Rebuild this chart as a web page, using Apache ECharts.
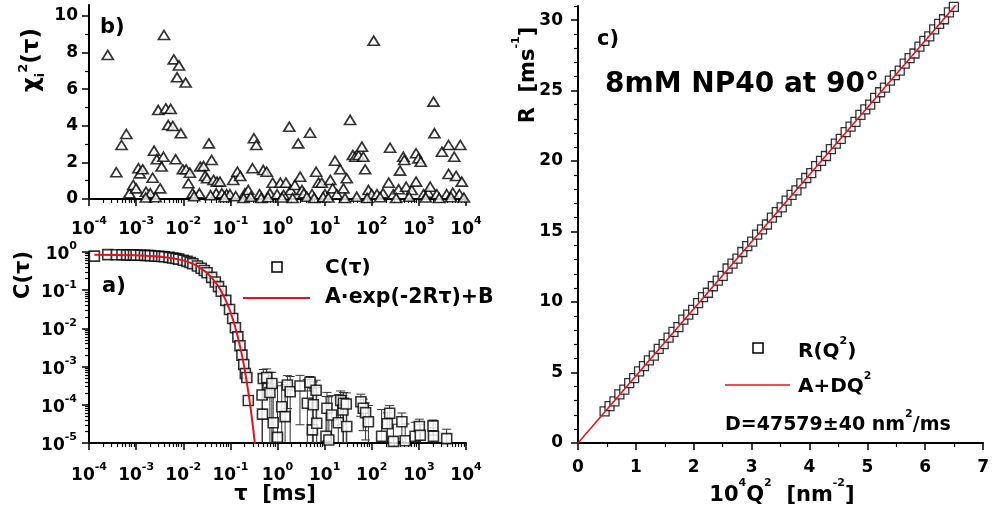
<!DOCTYPE html>
<html><head><meta charset="utf-8">
<script src="https://cdn.jsdelivr.net/npm/echarts@6/dist/echarts.min.js"></script>
<style>html,body{margin:0;padding:0;background:#fff}#c{width:992px;height:516px}</style>
</head><body><div id="c"></div>
<script>
// ---------- panel b : chi^2 residuals ----------
const chiTau = [2.5e-4,3.8e-4,4.9e-4,6.2e-4,7.2e-4,8.7e-4,1.0e-3,1.12e-3,1.2e-3,1.38e-3,1.62e-3,2.0e-3,2.24e-3,2.4e-3,2.95e-3,2.75e-3,3.24e-3,3.47e-3,3.8e-3,3.9e-3,4.27e-3,4.8e-3,5.4e-3,6.0e-3,6.3e-3,6.9e-3,7.4e-3,8.1e-3,8.9e-3,9.8e-3,1.12e-2,1.15e-2,1.29e-2,1.38e-2,1.58e-2,2.2e-2,2.3e-2,2.7e-2,2.9e-2,3.2e-2,3.5e-2,4.0e-2,4.4e-2,5.0e-2,5.2e-2,6.0e-2,6.6e-2,8.3e-2,9.8e-2,0.115,0.141,0.162,0.204,0.24,0.295,0.316,0.355,0.417,0.50,0.59,0.69,0.79,0.98,1.15,1.35,1.51,1.78,1.91,2.34,2.75,3.02,3.31,3.63,4.9,5.4,6.6,7.4,8.7,10.2,13.2,14.8,16.6,18.2,21.4,25.1,29.5,34.7,39.8,44.7,52.5,61.7,66.1,72.4,85.1,100,110,129,174,229,245,288,372,398,468,490,537,708,871,871,977,1096,1259,1585,1738,2042,2138,2399,3090,3890,4266,4266,5248,5623,6166,7244,7586,8128,
  1.6e-3,2.6e-3,1.7e-2,3.8e-2,7.5e-2,0.13,0.19,0.27,0.45,0.63,1.25,2.1,4.2,6.0,9.3,12,27,48,80,150,330,620,1400,2700,4800,9000];
const chiVal = [7.87,1.46,2.95,3.55,0.31,0.77,0.58,1.68,1.40,1.62,0.40,0.31,1.16,2.64,4.86,2.17,0.58,1.77,2.31,8.96,4.95,4.04,4.92,3.99,7.63,2.17,6.65,7.30,3.59,1.62,6.36,1.62,0.86,1.44,0.31,0.31,1.77,1.80,1.26,1.13,3.04,2.13,1.04,0.31,0.95,0.95,0.31,0.26,0.26,1.04,1.49,1.26,0.31,0.49,1.68,3.32,2.95,0.26,1.58,1.49,0.31,0.89,0.26,0.89,0.22,0.89,3.95,0.49,0.77,3.04,1.22,0.49,0.31,3.62,0.26,1.49,0.89,0.89,0.26,1.04,0.58,2.09,0.26,1.62,0.58,1.13,4.32,2.40,2.31,2.40,2.86,2.31,1.62,0.49,0.26,8.65,0.26,0.31,0.89,2.80,0.26,0.53,1.55,2.31,2.13,0.67,0.49,0.95,2.50,2.22,2.04,0.26,0.34,0.67,5.32,3.59,0.26,2.58,0.26,1.37,2.95,0.34,2.31,1.26,0.26,2.95,0.95,
  0.08,0.10,0.15,0.20,0.10,0.15,0.05,0.12,0.05,0.10,0.08,0.05,0.12,0.05,0.10,0.08,0.05,0.12,0.05,0.10,0.05,0.12,0.08,0.05,0.10,0.08];
const chiTicks = [0,2,4,6,8,10];
const chiMinor = [1,3,5,7,9];

// ---------- panel a : correlation function ----------
const corrTau = [1.3e-4,2.5e-4,3.8e-4,5.0e-4,6.3e-4,7.5e-4,8.8e-4,1.0e-3,1.25e-3,1.5e-3,1.75e-3,2.0e-3,2.5e-3,3.0e-3,3.5e-3,4.0e-3,5.0e-3,6.0e-3,7.0e-3,8.0e-3,1.0e-2,1.2e-2,1.4e-2,1.6e-2,2.0e-2,2.4e-2,2.8e-2,3.2e-2,4.0e-2,4.8e-2,5.6e-2,6.4e-2,8.0e-2,9.6e-2,0.112,0.128,0.144,0.16,0.176,0.192,0.208,0.224,0.24];
const corrVal = [0.78,0.853,0.849,0.845,0.841,0.838,0.834,0.831,0.824,0.816,0.809,0.802,0.788,0.775,0.761,0.748,0.723,0.698,0.675,0.652,0.609,0.568,0.530,0.494,0.431,0.375,0.327,0.285,0.217,0.164,0.124,0.094,0.0543,0.0313,0.0181,0.0104,0.0060,0.0035,0.0020,0.00114,0.00066,0.00052,0.00013];
const tailTau = [0.47,0.48,0.50,0.59,0.69,0.76,0.81,1.0,1.23,1.45,1.62,1.86,3.0,4.3,4.9,5.5,5.75,6.6,6.8,10.7,11.2,12.3,14.1,19.5,21.9,24.5,25.1,28.8,29.5,58.9,66,74,85,162,214,240,288,436,513,832,1023,1072,1995,2040,3890];
const tailVal = [1.8e-4,5.7e-5,4.9e-4,5.2e-4,2.1e-4,3.6e-4,3.4e-5,1.4e-5,8.9e-5,4.9e-5,3.3e-4,2.2e-4,3.1e-4,1.1e-4,3.9e-4,2.2e-5,1.0e-4,2.4e-4,3.3e-5,1.5e-5,8.1e-5,1.2e-5,5.4e-5,3.4e-5,1.3e-4,7.3e-5,1.1e-4,1.05e-4,2.7e-5,1.2e-4,8.1e-5,6.2e-5,3.6e-5,1.5e-5,3.2e-5,6.0e-5,1.1e-5,3.6e-5,1.15e-5,1.5e-5,2.7e-5,1.6e-5,2.8e-5,1.5e-5,1.3e-5];
const tailErr = [4.5e-4,4.0e-4,3.5e-4,3.5e-4,5.0e-4,3.5e-4,3.2e-4,3.0e-4,3.0e-4,2.8e-4,2.5e-4,3.3e-4,2.8e-4,3.5e-4,1.6e-4,2.5e-4,3.0e-4,2.0e-4,2.5e-4,1.5e-4,1.3e-4,1.5e-4,1.2e-4,1.5e-4,1.0e-4,1.0e-4,1.0e-4,1.0e-4,1.1e-4,7.0e-5,6.0e-5,5.0e-5,6.0e-5,6.0e-5,3.0e-5,3.5e-5,2.0e-5,2.5e-5,2.0e-5,2.0e-5,1.5e-5,1.5e-5,1.2e-5,1.0e-5,1.0e-5];
const fitTau = [1.3e-4,1e-3,3e-3,6e-3,1e-2,1.5e-2,2e-2,3e-2,4e-2,5e-2,6e-2,7e-2,8e-2,0.1,0.12,0.14,0.16,0.18,0.2,0.22,0.25,0.28,0.31,0.34];
const fitVal = [0.846,0.821,0.766,0.690,0.604,0.509,0.428,0.303,0.214,0.152,0.108,0.0764,0.0541,0.0273,0.0137,0.00688,0.00346,0.00174,0.000874,0.000439,0.000157,5.57e-5,1.99e-5,7.1e-6];
const tauDecades = [-4,-3,-2,-1,0,1,2,3,4];
const corrDecades = [-5,-4,-3,-2,-1,0];

// ---------- panel c : relaxation rate vs Q^2 ----------
const q2 = [0.46,0.545,0.63,0.715,0.80,0.885,0.97,1.055,1.14,1.225,1.31,1.395,1.48,1.565,1.65,1.735,1.82,1.905,1.99,2.075,2.16,2.245,2.33,2.415,2.50,2.585,2.67,2.755,2.84,2.925,3.01,3.095,3.18,3.265,3.35,3.435,3.52,3.605,3.69,3.775,3.86,3.945,4.03,4.115,4.20,4.285,4.37,4.455,4.54,4.625,4.71,4.795,4.88,4.965,5.05,5.135,5.22,5.305,5.39,5.475,5.56,5.645,5.73,5.815,5.90,5.985,6.07,6.155,6.24,6.325,6.41,6.495];
const rate = [2.25,2.62,2.95,3.45,3.78,4.25,4.60,5.08,5.45,5.86,6.20,6.68,7.01,7.48,7.88,8.22,8.75,9.10,9.44,9.92,10.35,10.66,11.12,11.52,11.86,12.38,12.72,13.08,13.55,13.96,14.28,14.78,15.16,15.50,15.99,16.38,16.72,17.20,17.60,17.92,18.42,18.80,19.14,19.64,20.02,20.36,20.84,21.24,21.57,22.06,22.44,22.78,23.27,23.66,24.00,24.48,24.88,25.21,25.70,26.09,26.42,26.91,27.30,27.63,28.12,28.52,28.85,29.34,29.73,30.06,30.55,30.94];
const linFitQ2 = [0, 6.62];
const linFitR = [0, 31.5];
const rTicks = [0,5,10,15,20,25,30];

// ---------- styling helpers ----------
const F = "'DejaVu Sans', Verdana, sans-serif";
const BLACK = '#000';
const RED = '#e8101a';
const supRich = {
  b: {fontFamily: F, fontWeight: 'bold', fontSize: 17, color: BLACK, lineHeight: 22, verticalAlign: 'bottom'},
  s: {fontFamily: F, fontWeight: 'bold', fontSize: 11, color: BLACK, lineHeight: 11, verticalAlign: 'top'}
};
function decadeLabel(v) { return '{b|10}{s|' + Math.round(v) + '}'; }
function logMinorVals(lo, hi) {
  const out = [];
  for (let n = lo; n < hi; n++) for (let k = 2; k <= 9; k++) out.push(n + Math.log10(k));
  return out;
}
const axLine = {show: true, onZero: false, lineStyle: {color: BLACK, width: 2}};
function hiddenLog(grid, min, max, pos) {
  return {type: 'log', logBase: 10, gridIndex: grid, min: min, max: max, position: pos, show: false,
          axisLine: {onZero: false}, splitLine: {show: false}};
}
function decadeAxis(grid, lo, hi, pos, margin) {
  return {type: 'value', gridIndex: grid, min: lo, max: hi, interval: 1, position: pos,
    axisLine: axLine,
    axisTick: {show: true, inside: false, length: 7, lineStyle: {color: BLACK, width: 1.5}},
    axisLabel: {show: true, interval: 0, margin: margin, formatter: decadeLabel, rich: supRich, color: BLACK},
    splitLine: {show: false}};
}
function minorAxis(grid, lo, hi, pos, vals, len) {
  return {type: 'value', gridIndex: grid, min: lo, max: hi, position: pos,
    axisLine: {show: false, onZero: false},
    axisTick: {show: true, inside: false, length: len, customValues: vals, lineStyle: {color: BLACK, width: 1.2}},
    axisLabel: {show: false}, splitLine: {show: false}};
}
const numLabel = {fontFamily: F, fontWeight: 'bold', fontSize: 17, color: BLACK};

const rMinor = [];
for (let v = 1; v <= 31; v++) if (v % 5 !== 0) rMinor.push(v);

const chart = echarts.init(document.getElementById('c'), null, {renderer: 'canvas'});
const option = {
  animation: false,
  backgroundColor: '#fff',
  grid: [
    {left: 89, top: 5, width: 377, height: 194},
    {left: 89, top: 252, width: 377, height: 191},
    {left: 578, top: 6, width: 409, height: 437}
  ],
  xAxis: [
    hiddenLog(0, 1e-4, 1e4, 'bottom'),
    decadeAxis(0, -4, 4, 'bottom', 17),
    minorAxis(0, -4, 4, 'bottom', logMinorVals(-4, 4), 4),
    hiddenLog(1, 1e-4, 1e4, 'bottom'),
    decadeAxis(1, -4, 4, 'bottom', 19),
    minorAxis(1, -4, 4, 'bottom', logMinorVals(-4, 4), 4),
    {type: 'value', gridIndex: 2, min: 0, max: 7, interval: 1, position: 'bottom',
     axisLine: axLine,
     axisTick: {show: true, length: 7, lineStyle: {color: BLACK, width: 1.5}},
     minorTick: {show: true, splitNumber: 2, length: 4, lineStyle: {color: BLACK, width: 1.2}},
     axisLabel: Object.assign({margin: 16}, numLabel),
     splitLine: {show: false}, minorSplitLine: {show: false}}
  ],
  yAxis: [
    {type: 'value', gridIndex: 0, min: 0, max: 10.6, position: 'left',
     axisLine: axLine,
     axisTick: {show: true, length: 7, customValues: chiTicks, lineStyle: {color: BLACK, width: 1.5}},
     axisLabel: Object.assign({margin: 11, customValues: chiTicks}, numLabel),
     splitLine: {show: false}},
    minorAxis(0, 0, 10.6, 'left', chiMinor, 4),
    hiddenLog(1, 1e-5, 1, 'left'),
    decadeAxis(1, -5, 0, 'left', 12),
    minorAxis(1, -5, 0, 'left', logMinorVals(-5, 0), 4),
    {type: 'value', gridIndex: 2, min: 0, max: 31, position: 'left',
     axisLine: axLine,
     axisTick: {show: true, length: 7, customValues: rTicks, lineStyle: {color: BLACK, width: 1.5}},
     axisLabel: Object.assign({margin: 15, customValues: rTicks}, numLabel),
     splitLine: {show: false}},
    minorAxis(2, 0, 31, 'left', rMinor, 4)
  ],
  series: [
    {type: 'scatter', xAxisIndex: 0, yAxisIndex: 0,
     data: chiTau.map((t, i) => [t, chiVal[i]]),
     symbol: 'triangle', symbolSize: [11, 9],
     itemStyle: {color: '#fff', borderColor: BLACK, borderWidth: 1.7}, z: 3},
    {type: 'custom', xAxisIndex: 3, yAxisIndex: 2, clip: true, z: 2,
     data: tailTau.map((t, i) => [t, Math.max(tailVal[i] - tailErr[i], 1e-8), tailVal[i] + tailErr[i]]),
     encode: {x: 0, y: [1, 2]},
     renderItem: function (params, api) {
       const x = api.value(0), lo = api.value(1), hi = api.value(2);
       const pl = api.coord([x, lo]), ph = api.coord([x, hi]);
       const w = 4.5;
       const st = {stroke: '#333', lineWidth: 1};
       return {type: 'group', children: [
         {type: 'line', shape: {x1: pl[0], y1: pl[1], x2: ph[0], y2: ph[1]}, style: st},
         {type: 'line', shape: {x1: ph[0] - w, y1: ph[1], x2: ph[0] + w, y2: ph[1]}, style: st},
         {type: 'line', shape: {x1: pl[0] - w, y1: pl[1], x2: pl[0] + w, y2: pl[1]}, style: st}
       ]};
     }},
    {type: 'scatter', xAxisIndex: 3, yAxisIndex: 2,
     data: corrTau.map((t, i) => [t, corrVal[i]]),
     symbol: 'rect', symbolSize: 10,
     itemStyle: {color: '#fff', borderColor: BLACK, borderWidth: 1.6}, z: 3},
    {type: 'scatter', xAxisIndex: 3, yAxisIndex: 2,
     data: tailTau.map((t, i) => [t, tailVal[i]]),
     symbol: 'rect', symbolSize: 10,
     itemStyle: {color: '#fff', borderColor: BLACK, borderWidth: 1.6}, z: 3},
    {type: 'line', xAxisIndex: 3, yAxisIndex: 2, clip: true,
     data: fitTau.map((t, i) => [t, fitVal[i]]),
     showSymbol: false, smooth: false,
     lineStyle: {color: RED, width: 2}, z: 5},
    {type: 'scatter', xAxisIndex: 6, yAxisIndex: 5,
     data: q2.map((q, i) => [q, rate[i]]),
     symbol: 'rect', symbolSize: 9, clip: true,
     itemStyle: {color: '#fff', borderColor: BLACK, borderWidth: 1.3}, z: 3},
    {type: 'line', xAxisIndex: 6, yAxisIndex: 5, clip: true,
     data: linFitQ2.map((q, i) => [q, linFitR[i]]),
     showSymbol: false, lineStyle: {color: RED, width: 1.5}, z: 5}
  ],
  graphic: [
    // panel tags
    {type: 'text', x: 100, y: 28, style: {text: 'b)', font: 'bold 21px ' + F, fill: BLACK, align: 'left', verticalAlign: 'middle', textAlign: 'left', textVerticalAlign: 'middle'}},
    {type: 'text', x: 102, y: 287, style: {text: 'a)', font: 'bold 21px ' + F, fill: BLACK, align: 'left', verticalAlign: 'middle', textAlign: 'left', textVerticalAlign: 'middle'}},
    {type: 'text', x: 597, y: 40, style: {text: 'c)', font: 'bold 21px ' + F, fill: BLACK, align: 'left', verticalAlign: 'middle', textAlign: 'left', textVerticalAlign: 'middle'}},
    {type: 'text', x: 605, y: 85, style: {text: '8mM NP40 at 90°', font: 'bold 28px ' + F, fill: BLACK, align: 'left', verticalAlign: 'middle', textAlign: 'left', textVerticalAlign: 'middle'}},
    // legend panel a
    {type: 'rect', shape: {x: 272, y: 262, width: 10, height: 10}, style: {fill: '#fff', stroke: BLACK, lineWidth: 1.5}},
    {type: 'text', x: 325, y: 268, style: {text: 'C(τ)', font: 'bold 20px ' + F, fill: BLACK, align: 'left', verticalAlign: 'middle', textAlign: 'left', textVerticalAlign: 'middle'}},
    {type: 'line', shape: {x1: 243, y1: 298, x2: 310, y2: 298}, style: {stroke: RED, lineWidth: 2}},
    {type: 'text', x: 325, y: 298, style: {text: 'A·exp(-2Rτ)+B', font: 'bold 20.5px ' + F, fill: BLACK, align: 'left', verticalAlign: 'middle', textAlign: 'left', textVerticalAlign: 'middle'}},
    // legend panel c
    {type: 'rect', shape: {x: 753, y: 343, width: 10, height: 10}, style: {fill: '#fff', stroke: BLACK, lineWidth: 1.5}},
    {type: 'text', x: 798, y: 349, style: {text: '{a|R(Q}{s|2}{a|)}', align: 'left', verticalAlign: 'middle', textAlign: 'left', textVerticalAlign: 'middle',
      rich: {a: {font: 'bold 20px ' + F, fill: BLACK, lineHeight: 26, verticalAlign: 'bottom'}, s: {font: 'bold 11px ' + F, fill: BLACK, lineHeight: 12, verticalAlign: 'top'}}}},
    {type: 'line', shape: {x1: 725, y1: 385, x2: 790, y2: 385}, style: {stroke: RED, lineWidth: 1.5}},
    {type: 'text', x: 798, y: 384, style: {text: '{a|A+DQ}{s|2}', align: 'left', verticalAlign: 'middle', textAlign: 'left', textVerticalAlign: 'middle',
      rich: {a: {font: 'bold 20px ' + F, fill: BLACK, lineHeight: 26, verticalAlign: 'bottom'}, s: {font: 'bold 11px ' + F, fill: BLACK, lineHeight: 12, verticalAlign: 'top'}}}},
    {type: 'text', x: 725, y: 422, style: {text: '{a|D=47579±40 nm}{s|2}{a|/ms}', align: 'left', verticalAlign: 'middle', textAlign: 'left', textVerticalAlign: 'middle',
      rich: {a: {font: 'bold 19px ' + F, fill: BLACK, lineHeight: 26, verticalAlign: 'bottom'}, s: {font: 'bold 11px ' + F, fill: BLACK, lineHeight: 12, verticalAlign: 'top'}}}},
    // axis titles
    {type: 'text', x: 275, y: 495, style: {text: 'τ  [ms]', font: 'bold 21px ' + F, fill: BLACK, align: 'center', verticalAlign: 'middle', textAlign: 'center', textVerticalAlign: 'middle'}},
    {type: 'text', x: 782, y: 492, style: {text: '{a|10}{s|4}{a|Q}{s|2}{a|  [nm}{s|-2}{a|]}', align: 'center', verticalAlign: 'middle', textAlign: 'center', textVerticalAlign: 'middle',
      rich: {a: {font: 'bold 21px ' + F, fill: BLACK, lineHeight: 28, verticalAlign: 'bottom'}, s: {font: 'bold 11px ' + F, fill: BLACK, lineHeight: 12, verticalAlign: 'top'}}}},
    {type: 'text', x: 24, y: 275, rotation: Math.PI / 2, style: {text: 'C(τ)', font: 'bold 21px ' + F, fill: BLACK, align: 'center', verticalAlign: 'middle', textAlign: 'center', textVerticalAlign: 'middle'}},
    {type: 'text', x: 32, y: 60, rotation: Math.PI / 2, style: {text: '{a|χ}{i|i}{s|2}{a|(τ)}', align: 'center', verticalAlign: 'middle', textAlign: 'center', textVerticalAlign: 'middle',
      rich: {a: {font: 'bold 23px ' + F, fill: BLACK, lineHeight: 30, verticalAlign: 'middle'}, i: {font: 'bold 13px ' + F, fill: BLACK, lineHeight: 13, verticalAlign: 'bottom'}, s: {font: 'bold 13px ' + F, fill: BLACK, lineHeight: 13, verticalAlign: 'top'}}}},
    {type: 'text', x: 525, y: 75, rotation: Math.PI / 2, style: {text: '{a|R  [ms}{s|-1}{a|]}', align: 'center', verticalAlign: 'middle', textAlign: 'center', textVerticalAlign: 'middle',
      rich: {a: {font: 'bold 21px ' + F, fill: BLACK, lineHeight: 28, verticalAlign: 'bottom'}, s: {font: 'bold 11px ' + F, fill: BLACK, lineHeight: 12, verticalAlign: 'top'}}}}
  ]
};
chart.setOption(option);
</script>
</body></html>
